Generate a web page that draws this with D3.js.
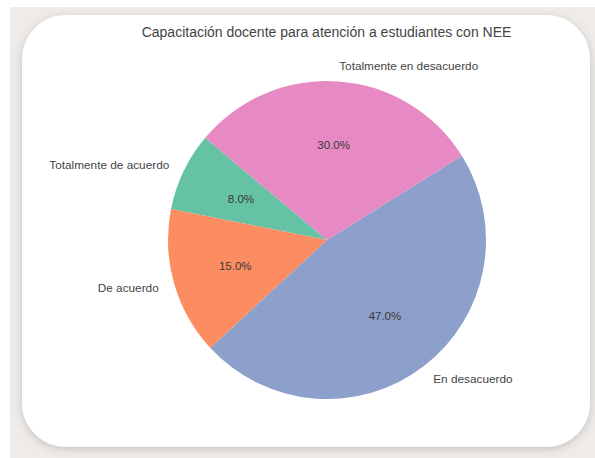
<!DOCTYPE html>
<html><head><meta charset="utf-8">
<script src="https://cdn.jsdelivr.net/npm/d3@7"></script>
<style>html,body{margin:0;padding:0;background:#fff;}svg{display:block;}</style>
</head><body>
<script>
const title = "Capacitación docente para atención a estudiantes con NEE";
const categories = ["Totalmente de acuerdo", "De acuerdo", "En desacuerdo", "Totalmente en desacuerdo"];
const values = [8, 15, 47, 30];
const colors = ["#66c2a5", "#fc8d62", "#8da0cb", "#e78ac3"];

const W = 595, H = 458;
const svg = d3.select("body").append("svg").attr("width", W).attr("height", H);
const defs = svg.append("defs");
const f = defs.append("filter").attr("id", "sh").attr("x", "-10%").attr("y", "-10%").attr("width", "120%").attr("height", "120%");
f.append("feDropShadow").attr("dx", 0).attr("dy", 2).attr("stdDeviation", 4).attr("flood-color", "#000").attr("flood-opacity", 0.18);

svg.append("rect").attr("x", 10).attr("y", 7).attr("width", W - 10).attr("height", H - 7).attr("fill", "#eeebe8");
svg.append("rect").attr("x", 22).attr("y", 15).attr("width", 568).attr("height", 432)
  .attr("rx", 44).attr("fill", "#fff").attr("filter", "url(#sh)");

const cx = 327, cy = 240, r = 159;
const startDeg = 140; // matplotlib-style start angle, counterclockwise
const pie = d3.pie().sort(null).value(d => d)
  .startAngle((90 - startDeg) * Math.PI / 180)
  .endAngle((90 - startDeg - 360) * Math.PI / 180);
const arcs = pie(values);
const arc = d3.arc().innerRadius(0).outerRadius(r);
const g = svg.append("g").attr("transform", `translate(${cx},${cy})`);
g.selectAll("path").data(arcs).join("path")
  .attr("d", arc).attr("fill", (d, i) => colors[i]);

const total = d3.sum(values);
function pos(d, k) {
  const a = (d.startAngle + d.endAngle) / 2;
  return [Math.sin(a) * r * k, -Math.cos(a) * r * k];
}
g.selectAll("text.lab").data(arcs).join("text").attr("class", "lab")
  .attr("x", d => pos(d, 1.1)[0]).attr("y", d => pos(d, 1.1)[1])
  .attr("dy", "0.35em")
  .attr("text-anchor", d => pos(d, 1.1)[0] > 0 ? "start" : "end")
  .attr("font-family", "Liberation Sans, Arial, sans-serif").attr("font-size", 11.8)
  .attr("fill", "#444").text((d, i) => categories[i]);
g.selectAll("text.pct").data(arcs).join("text").attr("class", "pct")
  .attr("x", d => pos(d, 0.6)[0]).attr("y", d => pos(d, 0.6)[1])
  .attr("dy", "0.35em").attr("text-anchor", "middle")
  .attr("font-family", "Liberation Sans, Arial, sans-serif").attr("font-size", 11.5)
  .attr("fill", "#383838").text(d => (100 * d.value / total).toFixed(1) + "%");

svg.append("text").attr("x", 326.5).attr("y", 37).attr("text-anchor", "middle")
  .attr("font-family", "Liberation Sans, Arial, sans-serif").attr("font-size", 14)
  .attr("fill", "#444").text(title);
</script>
</body></html>
